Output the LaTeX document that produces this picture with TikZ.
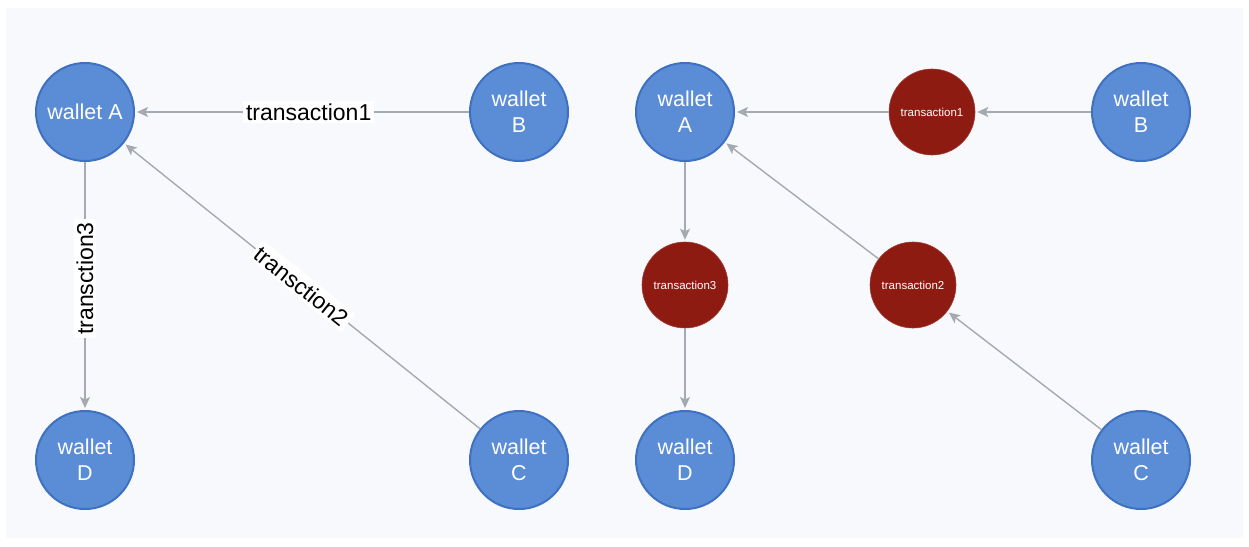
\documentclass[tikz,border=0pt]{standalone}
\usepackage{fontspec}
\setmainfont{Liberation Sans}
\usetikzlibrary{arrows.meta}
\definecolor{panel}{RGB}{248,249,253}
\definecolor{walletfill}{RGB}{91,140,214}
\definecolor{walletline}{RGB}{62,113,193}
\definecolor{txfill}{RGB}{142,27,17}
\definecolor{edgegray}{RGB}{165,169,178}

\begin{document}
\begin{tikzpicture}[x=1pt,y=-1pt,
  wallet/.style={circle, fill=walletfill, draw=walletline, line width=2pt,
    minimum size=98pt, inner sep=0pt, text=white, align=center,
    font=\fontsize{21.5}{26}\selectfont},
  tx/.style={circle, fill=txfill, draw=txfill!85!white, line width=0.6pt,
    minimum size=86pt, inner sep=0pt, text=white,
    font=\fontsize{11.5}{13}\selectfont},
  link/.style={draw=edgegray, line width=1.4pt,
    -{Stealth[length=11pt,width=10pt,inset=2.5pt]}, shorten >=2pt},
  lbl/.style={fill=white, text=black, inner sep=3pt,
    font=\fontsize{23}{27}\selectfont}
]
% page and panel
\fill[white] (0,0) rectangle (1249,546);
\fill[panel] (6,8) rectangle (1243,538);

% left graph: transactions as labelled edges
\node[wallet] (lA) at (85,112) {wallet A};
\node[wallet] (lB) at (519,112) {wallet\\B};
\node[wallet] (lD) at (85,460) {wallet\\D};
\node[wallet] (lC) at (519,460) {wallet\\C};

\draw[link] (lB) -- node[lbl, pos=0.48] {transaction1} (lA);
\draw[link] (lA) -- node[lbl, rotate=90, pos=0.47] {transction3} (lD);
\draw[link] (lC) -- node[lbl, rotate=-38.7] {transction2} (lA);

% right graph: transactions as nodes
\node[wallet] (rA) at (685,112) {wallet\\A};
\node[wallet] (rB) at (1141,112) {wallet\\B};
\node[wallet] (rD) at (685,460) {wallet\\D};
\node[wallet] (rC) at (1141,460) {wallet\\C};
\node[tx] (t1) at (932,112) {transaction1};
\node[tx] (t3) at (685,285) {transaction3};
\node[tx] (t2) at (913,285) {transaction2};

\draw[link] (rB) -- (t1);
\draw[link] (t1) -- (rA);
\draw[link] (rA) -- (t3);
\draw[link] (t3) -- (rD);
\draw[link] (rC) -- (t2);
\draw[link] (t2) -- (rA);
\end{tikzpicture}
\end{document}
